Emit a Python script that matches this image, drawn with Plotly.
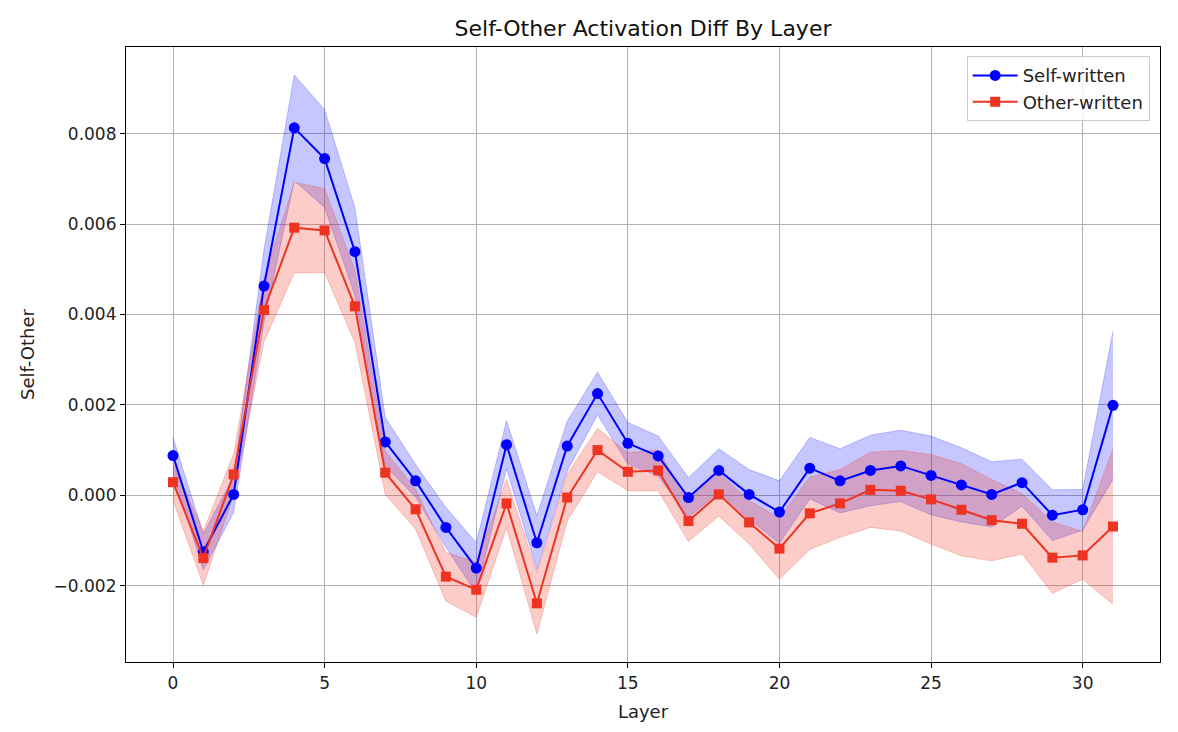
import numpy as np
import plotly.graph_objects as go

layers = list(range(32))
self_mean = [0.00088, -0.00125, 0.00002, 0.00463, 0.00813, 0.00745, 0.00539, 0.00118,
             0.00032, -0.00071, -0.00161, 0.00112, -0.00105, 0.00109, 0.00225, 0.00115,
             0.00087, -0.00005, 0.00055, 0.00002, -0.00037, 0.00060, 0.00032, 0.00055,
             0.00065, 0.00044, 0.00023, 0.00002, 0.00028, -0.00044, -0.00032, 0.00199]
self_err = [0.00040, 0.00040, 0.00040, 0.00080, 0.00117, 0.00108, 0.00097, 0.00054,
            0.00036, 0.00044, 0.00056, 0.00053, 0.00060, 0.00055, 0.00047, 0.00046,
            0.00044, 0.00044, 0.00048, 0.00055, 0.00069, 0.00068, 0.00071, 0.00078,
            0.00079, 0.00087, 0.00082, 0.00072, 0.00052, 0.00056, 0.00045, 0.00164]
other_mean = [0.00029, -0.00139, 0.00046, 0.00410, 0.00592, 0.00586, 0.00418, 0.00050,
              -0.00031, -0.00180, -0.00209, -0.00018, -0.00239, -0.00005, 0.00100, 0.00052,
              0.00055, -0.00057, 0.00002, -0.00060, -0.00118, -0.00040, -0.00018, 0.00012,
              0.00010, -0.00009, -0.00032, -0.00055, -0.00063, -0.00138, -0.00133, -0.00069]
other_err = [0.00040, 0.00060, 0.00045, 0.00070, 0.00100, 0.00093, 0.00080, 0.00048,
             0.00044, 0.00054, 0.00061, 0.00053, 0.00068, 0.00052, 0.00048, 0.00042,
             0.00045, 0.00045, 0.00048, 0.00048, 0.00068, 0.00080, 0.00075, 0.00083,
             0.00089, 0.00099, 0.00102, 0.00090, 0.00067, 0.00079, 0.00053, 0.00172]

BLUE = "#0000ff"
RED = "#ee3322"
BLUE_FILL = "rgba(0,0,255,0.22)"
RED_FILL = "rgba(238,51,34,0.25)"

sm, se = np.array(self_mean), np.array(self_err)
om, oe = np.array(other_mean), np.array(other_err)

fig = go.Figure()

def band(mean, err, fill):
    fig.add_trace(go.Scatter(x=layers, y=mean + err, mode="lines",
                             line=dict(color=fill, width=1), showlegend=False,
                             hoverinfo="skip"))
    fig.add_trace(go.Scatter(x=layers, y=mean - err, mode="lines",
                             line=dict(color=fill, width=1), fill="tonexty",
                             fillcolor=fill, showlegend=False, hoverinfo="skip"))

band(sm, se, BLUE_FILL)
band(om, oe, RED_FILL)

fig.add_trace(go.Scatter(x=layers, y=self_mean, mode="lines+markers", name="Self-written",
                         line=dict(color=BLUE, width=2),
                         marker=dict(symbol="circle", size=11, color=BLUE)))
fig.add_trace(go.Scatter(x=layers, y=other_mean, mode="lines+markers", name="Other-written",
                         line=dict(color=RED, width=2),
                         marker=dict(symbol="square", size=10, color=RED)))

lo = min((sm - se).min(), (om - oe).min())
hi = max((sm + se).max(), (om + oe).max())
pad = 0.05 * (hi - lo)
xpad = 0.05 * (max(layers) - min(layers))

axis_common = dict(showline=True, linecolor="black", linewidth=1.2, mirror=True,
                   ticks="outside", ticklen=5, tickcolor="black",
                   showgrid=True, gridcolor="#b0b0b0", gridwidth=1, zeroline=False,
                   tickfont=dict(size=17, color="#222"))

fig.update_layout(
    width=1178, height=732,
    paper_bgcolor="white", plot_bgcolor="white",
    font=dict(family="DejaVu Sans", color="black"),
    margin=dict(l=118, r=26, t=39, b=78),
    title=dict(text="Self-Other Activation Diff By Layer", x=0.5, xanchor="center",
               xref="paper",
               y=1 - 20 / 732, yanchor="middle", font=dict(size=22, color="#111")),
    xaxis=dict(range=[min(layers) - xpad, max(layers) + xpad], dtick=5, tick0=0,
               title=dict(text="Layer", font=dict(size=18, color="#222"), standoff=13),
               **axis_common),
    yaxis=dict(range=[lo - pad, hi + pad], dtick=0.002, tick0=0, tickformat=".3f",
               title=dict(text="Self-Other", font=dict(size=18, color="#222"), standoff=14),
               **axis_common),
    legend=dict(x=0.99, y=0.985, xanchor="right", yanchor="top", traceorder="normal",
                bgcolor="rgba(255,255,255,0.85)", bordercolor="#cccccc", borderwidth=1,
                font=dict(size=18, color="#222"), itemwidth=45, tracegroupgap=0),
    showlegend=True,
)

fig.write_html("out.html")
